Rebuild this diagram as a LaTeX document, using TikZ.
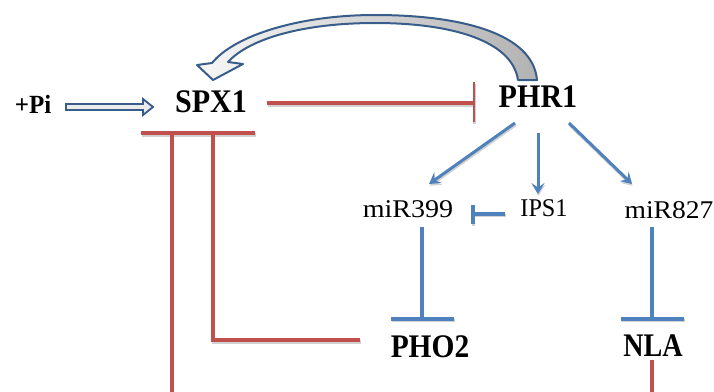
\documentclass[tikz,border=0pt]{standalone}
\usepackage{fontspec}
\setmainfont{Liberation Serif}
\usetikzlibrary{arrows.meta}
\definecolor{rd}{HTML}{C0504D}
\definecolor{bl}{HTML}{4F81BD}
\definecolor{dbl}{HTML}{385D8A}
\newcommand{\bigtxt}[2]{\scalebox{#1}[1.03]{\fontsize{32}{32}\selectfont\bfseries #2}}
\newcommand{\smtxt}[2]{\scalebox{#1}[1]{\fontsize{25.5}{25.5}\selectfont #2}}
\begin{document}
\begin{tikzpicture}[x=1pt,y=-1pt,
  lbl/.style={anchor=base, inner sep=0pt},
  shd/.style={preaction={draw=black!18, line width=#1, transform canvas={xshift=0.6pt,yshift=-1.8pt}}},
  redln/.style={draw=rd, line width=3.4pt, shd=3.4pt},
  redbar/.style={draw=rd, line width=2.6pt},
  bluln/.style={draw=bl, line width=3.2pt, shd=3.2pt},
  bluarr/.style={draw=bl, line width=3pt, shd=3pt, -{Stealth[length=11pt,width=13pt,inset=4.5pt]}}]
\useasboundingbox (0,0) rectangle (714,391);
\clip (0,0) rectangle (714,391);

% text nodes
\node[lbl] (pi) at (33,113) {\scalebox{1.0}[1.05]{\fontsize{25}{25}\selectfont\bfseries +Pi}};
\node[lbl] (spx) at (211,112) {\bigtxt{0.94}{SPX1}};
\node[lbl] (phr) at (538,107) {\bigtxt{0.94}{PHR1}};
\node[lbl] (mir399) at (408,217) {\smtxt{1.1}{miR399}};
\node[lbl] (ips) at (544,216) {\smtxt{0.95}{IPS1}};
\node[lbl] (mir827) at (669,218) {\smtxt{1.08}{miR827}};
\node[lbl] (pho) at (430,357) {\bigtxt{0.92}{PHO2}};
\node[lbl] (nla) at (653,356) {\bigtxt{0.88}{NLA}};

% connector end points
\coordinate (spxR) at (267,103);
\coordinate (phrBar) at (474,103);
\coordinate (phrBarT) at (474,82);
\coordinate (phrBarB) at (474,122);
\coordinate (spxBarL) at (141,133);
\coordinate (spxBarR) at (255,133);
\coordinate (v1T) at (172,133);
\coordinate (v1B) at (172,397);
\coordinate (v2T) at (213,133);
\coordinate (v2C) at (213,340);
\coordinate (phoL) at (360,340);
\coordinate (nlaB) at (652,360);
\coordinate (nlaE) at (652,397);
\coordinate (phrA) at (515,123);
\coordinate (phrB) at (538,133);
\coordinate (phrC) at (569,123);
\coordinate (m399T) at (429,184);
\coordinate (ipsT) at (538,194);
\coordinate (m827T) at (632,184);
\coordinate (ipsL) at (505,214);
\coordinate (m399bar) at (473,214);
\coordinate (m399barT) at (473,205);
\coordinate (m399barB) at (473,224);
\coordinate (m399B) at (422,227);
\coordinate (phoT) at (422,318);
\coordinate (phoBarL) at (391,319);
\coordinate (phoBarR) at (454,319);
\coordinate (m827B) at (652,227);
\coordinate (nlaT) at (652,318);
\coordinate (nlaBarL) at (621,319);
\coordinate (nlaBarR) at (684,319);

% +Pi hollow arrow
\draw[dbl, line width=1.8pt, fill=black!8, line join=miter]
  (66,104) -- (143,104) -- (143,99) -- (153,107) -- (143,115) -- (143,110) -- (66,110) -- cycle;

% curved block arrow PHR1 -> SPX1
\draw[dbl, line width=2pt, line join=round, left color=black!3, right color=black!30]
  (537,80) .. controls (533,33) and (460,15) .. (375,15)
  .. controls (300,15) and (235,35) .. (212,63)
  -- (197,65) -- (213,80) -- (243,64) -- (228,62)
  .. controls (250,38) and (305,23) .. (375,23)
  .. controls (450,23) and (512,40) .. (518,80) -- cycle;

% SPX1 -| PHR1
\draw[redln] (spxR) -- (phrBar);
\draw[redbar, shd=2.6pt] (phrBarT) -- (phrBarB);

% SPX1 inhibition bar and lines
\draw[redln] (spxBarL) -- (spxBarR);
\draw[redln] (v1T) -- (v1B);
\draw[redln] (v2T) -- (v2C) -- (phoL);
\draw[redln] (nlaB) -- (nlaE);

% PHR1 activations
\draw[bluarr] (phrA) -- (m399T);
\draw[bluarr] (phrB) -- (ipsT);
\draw[bluarr] (phrC) -- (m827T);

% IPS1 -| miR399
\draw[bluln] (ipsL) -- (m399bar);
\draw[bluln] (m399barT) -- (m399barB);

% miR399 -| PHO2
\draw[bluln] (m399B) -- (phoT);
\draw[bluln] (phoBarL) -- (phoBarR);

% miR827 -| NLA
\draw[bluln] (m827B) -- (nlaT);
\draw[bluln] (nlaBarL) -- (nlaBarR);
\end{tikzpicture}
\end{document}
